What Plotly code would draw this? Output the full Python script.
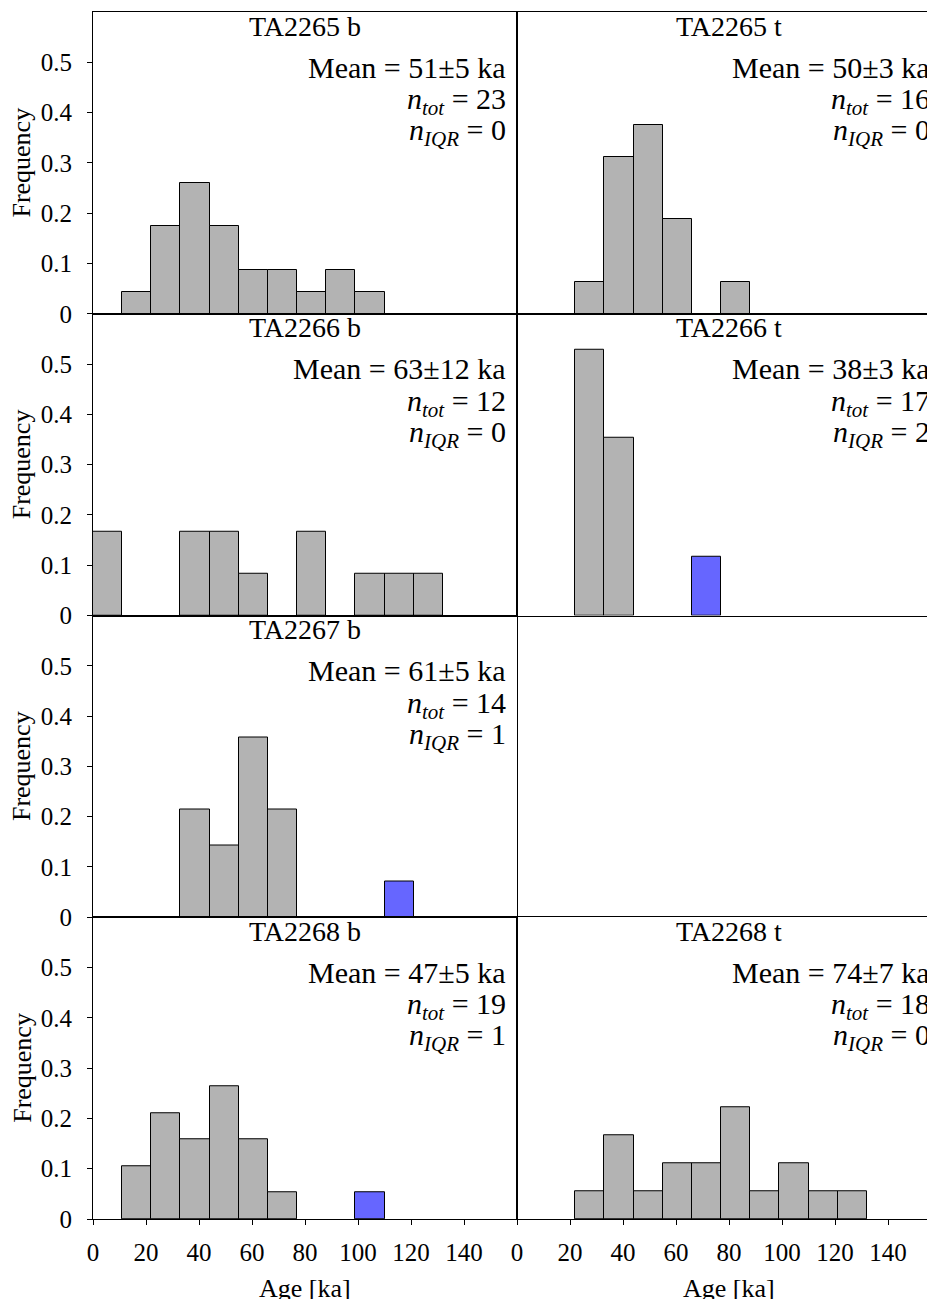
import plotly.graph_objects as go
from plotly.subplots import make_subplots

# ---------------- data ----------------
BIN_WIDTH = 11
bin_left = [0, 11, 22, 33, 44, 55, 66, 77, 88, 99, 110, 121]

panel_names = ["TA2265 b", "TA2265 t", "TA2266 b", "TA2266 t",
               "TA2267 b", None, "TA2268 b", "TA2268 t"]

# counts per bin (kept samples)
counts_TA2265b = [0, 1, 4, 6, 4, 2, 2, 1, 2, 1, 0, 0]
counts_TA2265t = [0, 0, 1, 5, 6, 3, 0, 1, 0, 0, 0, 0]
counts_TA2266b = [2, 0, 0, 2, 2, 1, 0, 2, 0, 1, 1, 1]
counts_TA2266t = [0, 0, 9, 6, 0, 0, 0, 0, 0, 0, 0, 0]
counts_TA2267b = [0, 0, 0, 3, 2, 5, 3, 0, 0, 0, 0, 0]
counts_TA2268b = [0, 2, 4, 3, 5, 3, 1, 0, 0, 0, 0, 0]
counts_TA2268t = [0, 0, 1, 3, 1, 2, 2, 4, 1, 2, 1, 1]

# counts per bin (IQR outliers, blue)
outl_TA2265b = [0] * 12
outl_TA2265t = [0] * 12
outl_TA2266b = [0] * 12
outl_TA2266t = [0, 0, 0, 0, 0, 0, 2, 0, 0, 0, 0, 0]
outl_TA2267b = [0, 0, 0, 0, 0, 0, 0, 0, 0, 0, 1, 0]
outl_TA2268b = [0, 0, 0, 0, 0, 0, 0, 0, 0, 1, 0, 0]
outl_TA2268t = [0] * 12

n_tot = [23, 16, 12, 17, 14, None, 19, 18]
n_iqr = [0, 0, 0, 2, 1, None, 1, 0]
mean_txt = ["51±5", "50±3", "63±12", "38±3", "61±5", None, "47±5", "74±7"]

normal_counts = [counts_TA2265b, counts_TA2265t, counts_TA2266b, counts_TA2266t,
                 counts_TA2267b, None, counts_TA2268b, counts_TA2268t]
outlier_counts = [outl_TA2265b, outl_TA2265t, outl_TA2266b, outl_TA2266t,
                  outl_TA2267b, None, outl_TA2268b, outl_TA2268t]

x_tickvals = [0, 20, 40, 60, 80, 100, 120, 140]
y_tickvals = [0, 0.1, 0.2, 0.3, 0.4, 0.5]
y_ticktext = ["0", "0.1", "0.2", "0.3", "0.4", "0.5"]

# ---------------- layout geometry ----------------
W, H = 927, 1299
L, R, T, B = 93, 0, 12, 80
PW = W - L - R
PH = H - T - B
PANEL_W = 424
ROW_H = PH / 4
X_MAX = 160
right_max = X_MAX * (PW - PANEL_W) / PANEL_W

GRAY = "#b3b3b3"
BLUE = "#6666ff"
FONT = "Liberation Serif"

fig = make_subplots(rows=4, cols=2, horizontal_spacing=0, vertical_spacing=0)


def px(x):
    return (x - L) / PW


def py(y):
    return (H - B - y) / PH


annotations = []
for i, name in enumerate(panel_names):
    r, c = i // 2, i % 2
    row, col = r + 1, c + 1
    if name is not None:
        n = n_tot[i]
        for cnts, color in ((normal_counts[i], GRAY), (outlier_counts[i], BLUE)):
            xs = [bl for bl, k in zip(bin_left, cnts) if k > 0]
            ys = [k / n for k in cnts if k > 0]
            if xs:
                fig.add_trace(go.Bar(x=xs, y=ys, width=BIN_WIDTH, offset=0,
                                     marker=dict(color=color,
                                                 line=dict(color="black", width=1)),
                                     showlegend=False, hoverinfo="skip"),
                              row=row, col=col)
        left = L + c * PANEL_W
        top = T + r * ROW_H
        tfont = dict(family=FONT, size=28, color="black")
        afont = dict(family=FONT, size=30, color="black")
        annotations.append(dict(x=px(left + PANEL_W / 2), y=py(top + 14), xref="paper", yref="paper",
                                text=name, showarrow=False, xanchor="center", yanchor="middle", font=tfont))
        rx = px(left + PANEL_W - 9)
        annotations.append(dict(x=rx, y=py(top + 55), xref="paper", yref="paper",
                                text=f"Mean = {mean_txt[i]} ka", showarrow=False,
                                xanchor="right", yanchor="middle", font=afont))
        annotations.append(dict(x=rx, y=py(top + 89), xref="paper", yref="paper",
                                text=f"<i>n</i><sub><i>tot</i></sub> = {n}", showarrow=False,
                                xanchor="right", yanchor="middle", font=afont))
        annotations.append(dict(x=rx, y=py(top + 120), xref="paper", yref="paper",
                                text=f"<i>n</i><sub><i>IQR</i></sub> = {n_iqr[i]}", showarrow=False,
                                xanchor="right", yanchor="middle", font=afont))

    xdom = [0, PANEL_W / PW] if c == 0 else [PANEL_W / PW, 1]
    bottom = (r == 3)
    fig.update_xaxes(domain=xdom, range=[0, X_MAX if c == 0 else right_max],
                     showline=True, linecolor="black", linewidth=1, mirror=True,
                     showgrid=False, zeroline=False,
                     tickvals=x_tickvals, ticks="outside" if bottom else "",
                     ticklen=5, tickcolor="black", showticklabels=bottom,
                     ticklabelstandoff=6,
                     tickfont=dict(family=FONT, size=25, color="black"),
                     row=row, col=col)
    fig.update_yaxes(range=[0, 0.6], showline=True, linecolor="black", linewidth=1,
                     mirror=(c == 0), showgrid=False, zeroline=False,
                     tickvals=y_tickvals, ticktext=y_ticktext,
                     ticks="outside" if c == 0 else "", ticklen=5, tickcolor="black",
                     showticklabels=(c == 0), ticklabelstandoff=10,
                     tickfont=dict(family=FONT, size=25, color="black"),
                     row=row, col=col)

# axis titles
for r in range(4):
    top = T + r * ROW_H
    annotations.append(dict(x=px(21.7), y=py(top + ROW_H / 2), xref="paper", yref="paper",
                            text="Frequency", textangle=-90, showarrow=False,
                            xanchor="center", yanchor="middle",
                            font=dict(family=FONT, size=26, color="black")))
for c in range(2):
    left = L + c * PANEL_W
    annotations.append(dict(x=px(left + PANEL_W / 2), y=py(1288), xref="paper", yref="paper",
                            text="Age [ka]", showarrow=False, xanchor="center", yanchor="middle",
                            font=dict(family=FONT, size=26, color="black")))

fig.update_layout(width=W, height=H, margin=dict(l=L, r=R, t=T, b=B),
                  paper_bgcolor="white", plot_bgcolor="white",
                  bargap=0, barmode="overlay", annotations=annotations,
                  font=dict(family=FONT, color="black"))

fig.write_html("out.html")
